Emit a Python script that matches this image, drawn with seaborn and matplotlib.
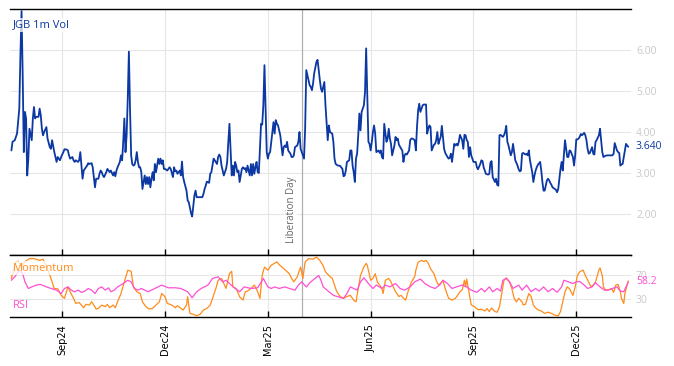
import matplotlib
matplotlib.use("Agg")
import matplotlib.pyplot as plt
import seaborn as sns
import pandas as pd

# ---------------- data ----------------
vol_dates = [
    "2024-07-19","2024-07-20","2024-07-22","2024-07-24","2024-07-26","2024-07-27","2024-07-28","2024-07-29","2024-07-30","2024-07-31",
    "2024-08-01","2024-08-02","2024-08-03","2024-08-04","2024-08-06","2024-08-07","2024-08-08","2024-08-09","2024-08-10","2024-08-12",
    "2024-08-13","2024-08-14","2024-08-15","2024-08-16","2024-08-17","2024-08-19","2024-08-20","2024-08-22","2024-08-23","2024-08-24",
    "2024-08-26","2024-08-27","2024-08-28","2024-08-29","2024-08-31",
    "2024-09-01","2024-09-03","2024-09-04","2024-09-06","2024-09-07","2024-09-08","2024-09-09","2024-09-11","2024-09-12","2024-09-13",
    "2024-09-14","2024-09-16","2024-09-17","2024-09-18","2024-09-19","2024-09-20","2024-09-21","2024-09-22","2024-09-24","2024-09-25",
    "2024-09-26","2024-09-28","2024-09-29","2024-09-30",
    "2024-10-01","2024-10-02","2024-10-04","2024-10-05","2024-10-06","2024-10-07","2024-10-08","2024-10-09","2024-10-11","2024-10-12",
    "2024-10-13","2024-10-14","2024-10-15","2024-10-17","2024-10-18","2024-10-19","2024-10-20","2024-10-21","2024-10-23","2024-10-24",
    "2024-10-25","2024-10-26","2024-10-27","2024-10-28","2024-10-29","2024-10-30","2024-10-31",
    "2024-11-01","2024-11-02","2024-11-03","2024-11-04","2024-11-05","2024-11-06","2024-11-07","2024-11-08","2024-11-09","2024-11-10",
    "2024-11-11","2024-11-12","2024-11-13","2024-11-14","2024-11-15","2024-11-16","2024-11-17","2024-11-18","2024-11-19","2024-11-20",
    "2024-11-21","2024-11-22","2024-11-23","2024-11-24","2024-11-26","2024-11-27","2024-11-28","2024-11-29","2024-11-30",
    "2024-12-01","2024-12-02","2024-12-04","2024-12-06","2024-12-07","2024-12-09","2024-12-10","2024-12-11","2024-12-12","2024-12-13",
    "2024-12-15","2024-12-16","2024-12-17","2024-12-18","2024-12-19","2024-12-21","2024-12-22","2024-12-23","2024-12-24","2024-12-25",
    "2024-12-26","2024-12-27","2024-12-28","2024-12-29","2024-12-30","2024-12-31",
    "2025-01-02","2025-01-04","2025-01-05","2025-01-06","2025-01-07","2025-01-08","2025-01-10","2025-01-11","2025-01-12","2025-01-13",
    "2025-01-14","2025-01-15","2025-01-17","2025-01-18","2025-01-19","2025-01-20","2025-01-21","2025-01-23","2025-01-24","2025-01-25",
    "2025-01-26","2025-01-27","2025-01-28","2025-01-29","2025-01-30","2025-01-31",
    "2025-02-01","2025-02-02","2025-02-03","2025-02-04","2025-02-05","2025-02-06","2025-02-08","2025-02-09","2025-02-10","2025-02-11",
    "2025-02-12","2025-02-13","2025-02-15","2025-02-16","2025-02-17","2025-02-18","2025-02-19","2025-02-20","2025-02-21","2025-02-22",
    "2025-02-23","2025-02-25","2025-02-26","2025-02-27","2025-02-28",
    "2025-03-01","2025-03-02","2025-03-03","2025-03-04","2025-03-05","2025-03-07","2025-03-08","2025-03-09","2025-03-10","2025-03-11",
    "2025-03-12","2025-03-13","2025-03-14","2025-03-16","2025-03-17","2025-03-18","2025-03-19","2025-03-20","2025-03-21","2025-03-23",
    "2025-03-24","2025-03-25","2025-03-26","2025-03-27","2025-03-29","2025-03-30","2025-03-31",
    "2025-04-01","2025-04-02","2025-04-04","2025-04-05","2025-04-06","2025-04-08","2025-04-09","2025-04-10","2025-04-11","2025-04-12",
    "2025-04-13","2025-04-15","2025-04-16","2025-04-17","2025-04-18","2025-04-19","2025-04-20","2025-04-22","2025-04-23","2025-04-25",
    "2025-04-26","2025-04-27","2025-04-29","2025-04-30",
    "2025-05-01","2025-05-02","2025-05-04","2025-05-05","2025-05-06","2025-05-08","2025-05-09","2025-05-10","2025-05-11","2025-05-12",
    "2025-05-14","2025-05-15","2025-05-16","2025-05-17","2025-05-18","2025-05-19","2025-05-20","2025-05-21","2025-05-22","2025-05-23",
    "2025-05-24","2025-05-25","2025-05-27","2025-05-28","2025-05-29","2025-05-30","2025-05-31",
    "2025-06-01","2025-06-02","2025-06-03","2025-06-04","2025-06-05","2025-06-06","2025-06-07","2025-06-09","2025-06-10","2025-06-11",
    "2025-06-12","2025-06-13","2025-06-14","2025-06-16","2025-06-17","2025-06-18","2025-06-19","2025-06-20","2025-06-21","2025-06-23",
    "2025-06-24","2025-06-25","2025-06-26","2025-06-27","2025-06-29","2025-06-30",
    "2025-07-01","2025-07-02","2025-07-03","2025-07-04","2025-07-06","2025-07-07","2025-07-08","2025-07-09","2025-07-10","2025-07-11",
    "2025-07-12","2025-07-13","2025-07-14","2025-07-15","2025-07-16","2025-07-17","2025-07-18","2025-07-19","2025-07-20","2025-07-21",
    "2025-07-22","2025-07-23","2025-07-24","2025-07-25","2025-07-26","2025-07-28","2025-07-29","2025-07-30","2025-07-31",
    "2025-08-01","2025-08-02","2025-08-03","2025-08-04","2025-08-05","2025-08-06","2025-08-07","2025-08-09","2025-08-10","2025-08-11",
    "2025-08-12","2025-08-13","2025-08-15","2025-08-16","2025-08-17","2025-08-18","2025-08-19","2025-08-20","2025-08-22","2025-08-23",
    "2025-08-24","2025-08-25","2025-08-26","2025-08-27","2025-08-28","2025-08-29","2025-08-30",
    "2025-09-01","2025-09-02","2025-09-03","2025-09-04","2025-09-05","2025-09-07","2025-09-08","2025-09-09","2025-09-10","2025-09-11",
    "2025-09-12","2025-09-14","2025-09-15","2025-09-16","2025-09-17","2025-09-18","2025-09-20","2025-09-21","2025-09-22","2025-09-23",
    "2025-09-24","2025-09-25","2025-09-27","2025-09-28","2025-09-29","2025-09-30",
    "2025-10-01","2025-10-02","2025-10-04","2025-10-05","2025-10-06","2025-10-07","2025-10-08","2025-10-10","2025-10-11","2025-10-12",
    "2025-10-13","2025-10-14","2025-10-15","2025-10-17","2025-10-18","2025-10-19","2025-10-20","2025-10-21","2025-10-23","2025-10-24",
    "2025-10-25","2025-10-26","2025-10-27","2025-10-28","2025-10-30","2025-10-31",
    "2025-11-01","2025-11-02","2025-11-03","2025-11-05","2025-11-06","2025-11-07","2025-11-08","2025-11-09","2025-11-10","2025-11-12",
    "2025-11-13","2025-11-14","2025-11-15","2025-11-16","2025-11-17","2025-11-18","2025-11-19","2025-11-20","2025-11-21","2025-11-22",
    "2025-11-23","2025-11-24","2025-11-25","2025-11-26","2025-11-28","2025-11-29","2025-11-30",
    "2025-12-01","2025-12-02","2025-12-03","2025-12-04","2025-12-05","2025-12-06","2025-12-08","2025-12-09","2025-12-10","2025-12-11",
    "2025-12-12","2025-12-13","2025-12-15","2025-12-16","2025-12-17","2025-12-18","2025-12-19","2025-12-21","2025-12-22","2025-12-23",
    "2025-12-24","2025-12-25","2025-12-26","2025-12-28","2025-12-29","2025-12-31",
    "2026-01-02","2026-01-03","2026-01-04","2026-01-06","2026-01-07","2026-01-08","2026-01-09","2026-01-10","2026-01-11","2026-01-13",
    "2026-01-14","2026-01-15","2026-01-16",
]
vol_values = [
    3.55,3.76,3.80,3.96,4.57,5.88,6.95,5.39,3.51,4.49,
    4.33,2.94,3.35,4.08,3.80,4.33,4.61,4.33,4.37,4.37,4.57,4.41,4.08,3.92,4.00,4.12,3.84,3.63,3.59,3.80,3.51,3.39,3.27,3.39,3.31,
    3.39,3.51,3.58,3.57,3.55,3.43,3.35,3.39,3.31,3.27,3.31,3.27,3.31,3.51,3.18,2.86,3.06,3.10,3.18,3.24,3.22,3.24,3.14,2.90,
    2.65,2.86,2.86,2.98,3.06,3.02,2.94,2.90,3.02,3.10,3.06,3.02,3.06,2.94,3.02,2.92,3.06,3.14,3.27,3.43,3.31,3.76,4.33,3.51,3.92,4.82,5.96,
    4.57,3.43,3.22,3.18,3.20,3.31,3.51,3.27,3.14,3.14,3.02,2.61,2.78,2.94,2.73,2.90,2.73,2.90,2.65,2.86,3.02,2.82,3.22,3.02,3.35,3.22,3.35,3.22,3.31,
    3.10,3.10,3.06,3.14,3.10,2.90,3.14,3.04,3.06,2.98,3.06,2.94,3.28,2.90,2.78,2.57,2.33,2.29,2.16,2.02,1.94,2.20,2.45,2.57,2.41,2.41,
    2.41,2.41,2.49,2.61,2.69,2.79,2.76,2.98,3.02,3.18,3.35,3.31,3.22,3.39,3.45,3.39,3.18,2.94,3.02,3.10,3.27,3.76,4.20,3.59,2.94,3.18,
    2.94,3.27,3.18,3.02,3.06,2.78,3.10,3.14,3.10,3.12,3.02,3.18,2.94,3.22,2.94,3.22,2.98,3.14,3.27,3.02,3.00,4.20,4.18,4.65,5.63,
    4.57,3.51,3.35,3.47,3.51,4.00,4.24,3.96,4.29,4.20,4.16,4.04,3.92,3.43,3.63,3.67,3.63,3.76,3.55,3.47,3.39,3.39,3.43,3.63,3.67,3.76,4.00,
    3.59,3.51,3.35,4.08,5.51,5.27,5.14,5.10,5.02,5.18,5.43,5.71,5.76,5.51,5.27,5.06,4.98,5.22,4.65,3.80,4.16,4.00,3.96,3.76,
    3.35,3.22,3.18,3.18,3.17,3.10,2.92,2.94,3.06,3.27,3.31,3.55,3.55,3.18,3.02,2.78,3.35,3.47,3.92,4.45,4.04,4.49,4.65,4.98,6.04,4.90,3.76,
    3.71,3.55,3.76,4.00,4.16,3.96,3.51,3.55,3.49,3.55,3.39,3.35,4.20,3.76,3.84,4.08,3.84,3.71,3.43,3.67,3.88,3.80,3.84,3.69,3.59,3.55,
    3.27,3.43,3.47,3.45,3.55,3.80,3.84,3.84,3.82,3.80,3.55,4.12,4.53,4.69,4.49,4.57,4.65,4.67,4.67,4.67,3.96,4.08,4.16,4.12,3.55,3.69,3.71,3.80,4.00,
    3.71,3.80,3.88,4.15,3.88,3.59,3.49,3.39,3.35,3.37,3.47,3.27,3.71,3.67,3.71,3.67,3.76,3.93,3.80,3.59,3.93,3.92,3.80,3.76,3.39,3.63,3.43,
    3.27,3.27,3.27,3.14,3.09,3.22,3.31,3.29,3.14,3.06,2.98,2.96,2.98,3.25,3.29,2.90,2.78,2.86,2.71,2.69,3.92,3.93,3.88,3.92,4.00,4.15,
    3.76,3.67,3.43,3.51,3.71,3.51,3.31,3.18,3.09,3.04,3.06,3.47,3.49,3.45,3.47,3.43,3.55,3.31,3.02,2.78,2.94,3.06,3.14,3.20,3.27,3.06,
    2.78,2.57,2.57,2.82,2.86,2.82,2.76,2.71,2.65,2.61,2.59,2.53,2.61,2.86,3.10,3.27,3.06,3.43,3.80,3.59,3.39,3.39,3.55,3.53,3.39,3.18,3.43,
    3.82,3.82,3.84,3.88,3.95,3.92,3.98,3.92,3.80,3.59,3.47,3.49,3.63,3.47,3.45,3.76,3.80,3.92,4.08,3.80,3.51,3.39,3.41,3.43,3.43,3.43,
    3.43,3.47,3.73,3.55,3.51,3.49,3.18,3.21,3.22,3.55,3.71,3.67,3.64,
]

mom_dates = [
    "2024-07-19","2024-07-21","2024-07-23","2024-07-25","2024-07-28","2024-07-31",
    "2024-08-04","2024-08-08","2024-08-13","2024-08-16","2024-08-20","2024-08-23","2024-08-26","2024-08-29",
    "2024-09-01","2024-09-04","2024-09-07","2024-09-09","2024-09-12","2024-09-14","2024-09-17","2024-09-19","2024-09-21","2024-09-23","2024-09-26","2024-09-28","2024-09-30",
    "2024-10-02","2024-10-04","2024-10-07","2024-10-10","2024-10-12","2024-10-14","2024-10-17","2024-10-19","2024-10-21","2024-10-24","2024-10-27","2024-10-30",
    "2024-11-02","2024-11-04","2024-11-07","2024-11-10","2024-11-12","2024-11-15","2024-11-18","2024-11-21","2024-11-24","2024-11-27","2024-11-29",
    "2024-12-02","2024-12-04","2024-12-08","2024-12-11","2024-12-13","2024-12-16","2024-12-18","2024-12-21","2024-12-22","2024-12-24","2024-12-27","2024-12-30",
    "2025-01-02","2025-01-05","2025-01-08","2025-01-11","2025-01-13","2025-01-16","2025-01-18","2025-01-21","2025-01-23","2025-01-25","2025-01-28","2025-01-30","2025-01-31",
    "2025-02-03","2025-02-06","2025-02-09","2025-02-11","2025-02-13","2025-02-16","2025-02-19","2025-02-22","2025-02-24","2025-02-26","2025-02-28",
    "2025-03-03","2025-03-06","2025-03-11","2025-03-13","2025-03-17","2025-03-22","2025-03-24","2025-03-26","2025-03-29",
    "2025-04-01","2025-04-03","2025-04-05","2025-04-08","2025-04-12","2025-04-15","2025-04-18","2025-04-21","2025-04-23","2025-04-26","2025-04-29",
    "2025-05-01","2025-05-03","2025-05-06","2025-05-09","2025-05-12","2025-05-15","2025-05-18","2025-05-20","2025-05-22","2025-05-24","2025-05-27","2025-05-29","2025-05-30",
    "2025-06-01","2025-06-02","2025-06-04","2025-06-06","2025-06-08","2025-06-10","2025-06-12","2025-06-13","2025-06-15","2025-06-18","2025-06-20","2025-06-22","2025-06-24","2025-06-27","2025-06-29",
    "2025-07-01","2025-07-03","2025-07-05","2025-07-08","2025-07-11","2025-07-12","2025-07-14","2025-07-17","2025-07-19","2025-07-21","2025-07-23","2025-07-25","2025-07-28","2025-07-30",
    "2025-08-01","2025-08-03","2025-08-05","2025-08-07","2025-08-10","2025-08-13","2025-08-16","2025-08-18","2025-08-20","2025-08-22","2025-08-24","2025-08-25","2025-08-26","2025-08-28","2025-08-30",
    "2025-09-02","2025-09-05","2025-09-08","2025-09-11","2025-09-13","2025-09-15","2025-09-17","2025-09-20","2025-09-22","2025-09-24","2025-09-26","2025-09-28","2025-09-30",
    "2025-10-03","2025-10-05","2025-10-07","2025-10-09","2025-10-11","2025-10-14","2025-10-15","2025-10-17","2025-10-20","2025-10-22","2025-10-24","2025-10-26","2025-10-28","2025-10-31",
    "2025-11-03","2025-11-06","2025-11-09","2025-11-12","2025-11-15","2025-11-17","2025-11-19","2025-11-21","2025-11-23","2025-11-25","2025-11-28","2025-11-30",
    "2025-12-02","2025-12-04","2025-12-07","2025-12-09","2025-12-12","2025-12-14","2025-12-16","2025-12-18","2025-12-21","2025-12-22","2025-12-24","2025-12-25","2025-12-27","2025-12-29",
    "2026-01-01","2026-01-03","2026-01-05","2026-01-07","2026-01-09","2026-01-10","2026-01-12","2026-01-13","2026-01-15","2026-01-16",
]
mom_values = [
    64,80,91,93,83,92,
    97,97,94,96,80,64,47,47,
    36,31,50,42,31,22.6,24,19.8,15.4,21,19.8,25.3,19.8,
    13.2,14.3,19.8,17.1,20.9,15.4,19.8,15.4,25.3,39,58.4,77.7,
    76,50,41.9,39,25.3,17.1,13.2,14.3,19.8,25.3,39,
    33.6,22.6,19.8,15.4,18.7,14.3,11.6,19.8,33.6,6.1,4.4,2.2,
    4.4,11.6,14.3,19.8,30.9,47.4,61,64,55.6,47.4,72,76,50,
    47.4,33.6,28.1,41.9,43,47.4,53,41.9,30.9,69.4,83,
    77.7,86,91.5,87,80.4,72,64,58.4,66.7,
    83,64,91.5,97,96,99.7,94,85,75,69,64,
    53,42,34,31,34,36,28,25,47,69,83,89,86,
    69,61,64,72,58,53,47,39,61,64,58,50,42,34,36,
    31,28,42,58,67,78,91,94,92,94,89,80,72,61,
    53,56,61,47,31,28,31,36,42,45,61,50,63,42,20,
    17,12,13,10,14,9,15,9,8,17,39,61,65,
    58,47,31,25,31,25,20,21,39,34,20,15,12,10,
    6,8,6,3,1.7,9,25,42,50,47,36,50,
    69,75,78,69,58,50,53,58,78,81.5,69,50,45,45,
    47,41,53,54,42,31,22.6,39,53,60,
]

rsi_dates = [
    "2024-07-19","2024-07-22","2024-07-26","2024-07-29","2024-07-31",
    "2024-08-03","2024-08-06","2024-08-10","2024-08-14","2024-08-19","2024-08-23","2024-08-28",
    "2024-09-01","2024-09-04","2024-09-07","2024-09-10","2024-09-13","2024-09-16","2024-09-19","2024-09-22","2024-09-25","2024-09-28",
    "2024-10-01","2024-10-04","2024-10-07","2024-10-10","2024-10-13","2024-10-15","2024-10-18","2024-10-21","2024-10-26","2024-10-30",
    "2024-11-02","2024-11-05","2024-11-08","2024-11-11","2024-11-17","2024-11-23","2024-11-29",
    "2024-12-05","2024-12-11","2024-12-16","2024-12-22","2024-12-26","2024-12-30",
    "2025-01-03","2025-01-09","2025-01-13","2025-01-18","2025-01-22","2025-01-25","2025-01-28",
    "2025-02-02","2025-02-06","2025-02-10","2025-02-16","2025-02-22","2025-02-27",
    "2025-03-03","2025-03-06","2025-03-09","2025-03-13","2025-03-18","2025-03-22","2025-03-27","2025-03-30",
    "2025-04-02","2025-04-06","2025-04-10","2025-04-15","2025-04-17","2025-04-19","2025-04-21","2025-04-26","2025-04-30",
    "2025-05-04","2025-05-09","2025-05-12","2025-05-15","2025-05-18","2025-05-21","2025-05-24","2025-05-27","2025-05-31",
    "2025-06-04","2025-06-07","2025-06-12","2025-06-15","2025-06-19","2025-06-24","2025-06-28",
    "2025-07-02","2025-07-07","2025-07-11","2025-07-16","2025-07-20","2025-07-25","2025-07-29",
    "2025-08-02","2025-08-05","2025-08-09","2025-08-13","2025-08-17","2025-08-22","2025-08-26","2025-08-30",
    "2025-09-04","2025-09-08","2025-09-11","2025-09-15","2025-09-18","2025-09-22","2025-09-25","2025-09-27","2025-09-30",
    "2025-10-03","2025-10-06","2025-10-11","2025-10-14","2025-10-18","2025-10-22","2025-10-26","2025-10-29",
    "2025-11-02","2025-11-06","2025-11-10","2025-11-14","2025-11-18","2025-11-20","2025-11-24","2025-11-28",
    "2025-12-01","2025-12-04","2025-12-08","2025-12-11","2025-12-15","2025-12-18","2025-12-22","2025-12-26","2025-12-29",
    "2026-01-02","2026-01-06","2026-01-09","2026-01-12","2026-01-14","2026-01-16",
]
rsi_values = [
    61,66.7,77.7,72,58.4,
    47.4,50,53,54,50,47.4,44.6,
    39,47.4,50,44.6,41.9,44.6,40.8,43,47.4,44.6,
    39,47.4,50,44.6,48.5,41.9,44.6,50,55.6,61,
    58.4,47.4,44.6,47.4,41.9,47.4,53,
    48.5,48.5,47.4,41.9,32,41.9,
    47.4,53,64,66.7,58.4,61,55.6,
    47.4,41.9,50,47.4,48.5,64,
    50,47.4,50,47.4,50,47.4,44.6,53,
    58.4,50,58.4,66,69,61,50,42,36,
    33.6,31,39,50,47.4,44.6,58.4,65,55.6,
    47.4,53,47.4,53,50,55.6,47.4,
    44.6,50,58.4,63,55.6,50,47.4,
    53,61,55.6,47.4,50,53,50,44.6,
    41,47.4,41.9,50,41.9,47.4,43,61,64,
    58.4,47.4,53,44.6,53,41.9,47.4,43,
    50,41.9,47.4,41,50,61,58.4,55.6,
    58.4,59,53,47.4,50,57,50,44.6,44.6,
    47.4,50,43,41.9,50,58.2,
]

tick_dates = ["2024-09-02", "2024-12-02", "2025-03-03", "2025-06-02", "2025-09-01", "2025-12-01"]
tick_labels = ["Sep24", "Dec24", "Mar25", "Jun25", "Sep25", "Dec25"]
vol_ticks = [2, 3, 4, 5, 6]
osc_ticks = [30, 70]
event_date = "2025-04-02"
event_label = "Liberation Day"
vol_name = "JGB 1m Vol"
last_vol = 3.640
last_rsi = 58.2

# ---------------- style ----------------
BLUE = "#0b38a2"
ORANGE = "#ff8c1a"
PINK = "#ff4fd3"
GRID = "#e6e6e6"
TICKGREY = "#c9c9c9"

sns.set_theme(style="white")
plt.rcParams["font.family"] = ["Open Sans", "DejaVu Sans"]

vol = pd.DataFrame({"date": pd.to_datetime(vol_dates), "value": vol_values})
mom = pd.DataFrame({"date": pd.to_datetime(mom_dates), "value": mom_values})
rsi = pd.DataFrame({"date": pd.to_datetime(rsi_dates), "value": rsi_values})
ticks = pd.to_datetime(tick_dates)
event = pd.Timestamp(event_date)

fig = plt.figure(figsize=(6.74, 3.66), dpi=100)
ax = fig.add_axes([0.0148, 0.3033, 0.9214, 0.6721])
ax2 = fig.add_axes([0.0148, 0.1339, 0.9214, 0.1694], sharex=ax)

sns.lineplot(data=vol, x="date", y="value", ax=ax, color=BLUE, linewidth=1.3, legend=False, zorder=3)
sns.lineplot(data=mom, x="date", y="value", ax=ax2, color=ORANGE, linewidth=0.9, legend=False, zorder=3)
sns.lineplot(data=rsi, x="date", y="value", ax=ax2, color=PINK, linewidth=0.9, legend=False, zorder=4)

xmin = pd.Timestamp("2024-07-17 18:00")
xmax = pd.Timestamp("2026-01-18 10:00")

for a in (ax, ax2):
    a.set_xlabel("")
    a.set_ylabel("")
    a.set_xlim(xmin, xmax)
    for s in ("left", "right"):
        a.spines[s].set_visible(False)
    for s in ("top", "bottom"):
        a.spines[s].set_visible(True)
        a.spines[s].set_color("black")
        a.spines[s].set_linewidth(1.0)
    a.grid(True, color=GRID, linewidth=0.8)
    a.set_axisbelow(True)
    a.set_xticks(ticks)
    a.yaxis.tick_right()
    a.tick_params(axis="y", which="both", length=0, pad=3.6, labelcolor=TICKGREY, labelsize=7.5, left=False, right=False)
    a.tick_params(axis="x", direction="in", length=4, width=1, color="black", bottom=True, top=False)

ax.set_ylim(1, 7)
ax.set_yticks(vol_ticks)
ax.set_yticklabels([f"{v:.2f}" for v in vol_ticks])
ax.tick_params(axis="x", labelbottom=False)

ax2.set_ylim(0, 103)
ax2.set_yticks(osc_ticks)
ax2.set_yticklabels([str(v) for v in osc_ticks])
ax2.set_xticklabels(tick_labels, rotation=90, fontsize=7, family="DejaVu Sans", color="black")
ax2.tick_params(axis="x", pad=5)

# event line
for a in (ax, ax2):
    a.axvline(event, color="#b0b0b0", linewidth=0.9, zorder=2)
ax.annotate(event_label, xy=(event, 1.3), xycoords="data", xytext=(-5, 0), textcoords="offset pixels",
            rotation=90, ha="right", va="bottom", fontsize=7, color="#666666",
            bbox=dict(facecolor="white", edgecolor="none", alpha=0.85, pad=1))

# labels
box = dict(facecolor="white", edgecolor="none", alpha=0.75, pad=1.2)
ax.text(0.005, 0.935, vol_name, transform=ax.transAxes, color=BLUE, fontsize=8,
        ha="left", va="center", bbox=box, zorder=5)
ax2.text(0.005, 0.79, "Momentum", transform=ax2.transAxes, color=ORANGE, fontsize=8,
         ha="left", va="center", bbox=box, zorder=5)
ax2.text(0.005, 0.18, "RSI", transform=ax2.transAxes, color=PINK, fontsize=8,
         ha="left", va="center", zorder=5)

ax.annotate(f"{last_vol:.3f}", xy=(1, last_vol), xycoords=("axes fraction", "data"),
            xytext=(5, 0), textcoords="offset pixels", ha="left", va="center",
            fontsize=7.5, color=BLUE, annotation_clip=False)
ax2.annotate(f"{last_rsi:.1f}", xy=(1, last_rsi), xycoords=("axes fraction", "data"),
             xytext=(5, 0), textcoords="offset pixels", ha="left", va="center",
             fontsize=7.5, color=PINK, annotation_clip=False)

fig.savefig("out.png", dpi=100)
